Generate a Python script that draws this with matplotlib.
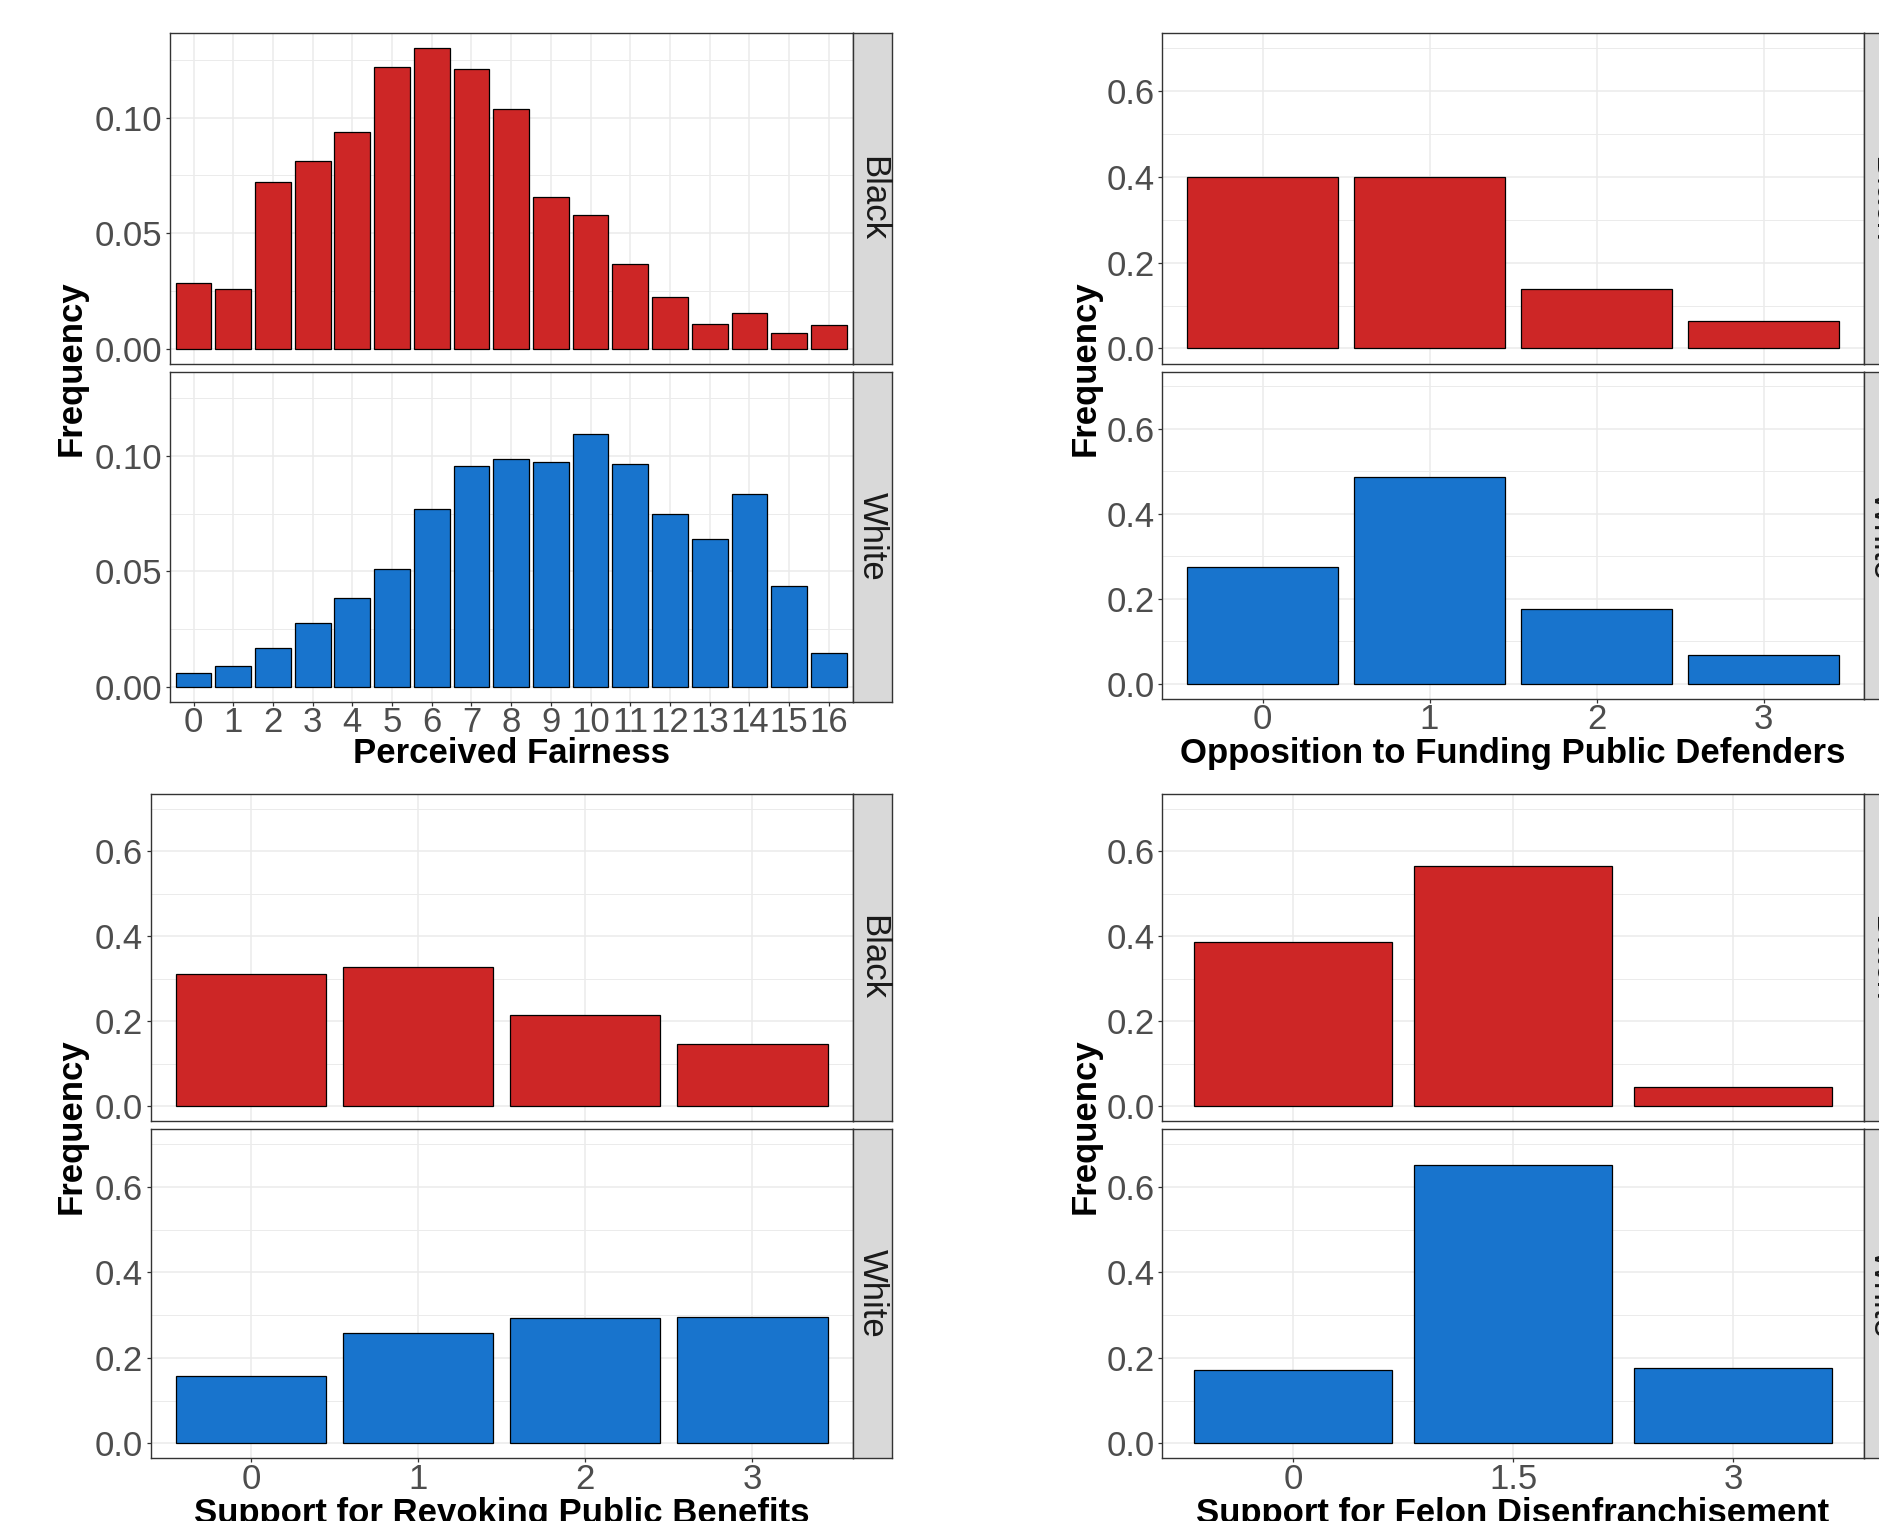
import matplotlib
matplotlib.use("Agg")
import matplotlib.pyplot as plt

plt.rcParams['font.family'] = ['Liberation Sans', 'DejaVu Sans']

# ---------------- data ----------------
groups = ["Black", "White"]

fair_levels = list(range(17))
fair_black = [0.0285, 0.0260, 0.0721, 0.0811, 0.0936, 0.1221, 0.1300, 0.1210, 0.1039,
              0.0655, 0.0579, 0.0367, 0.0225, 0.0105, 0.0155, 0.0069, 0.0103]
fair_white = [0.0062, 0.0090, 0.0167, 0.0275, 0.0384, 0.0511, 0.0770, 0.0955, 0.0987,
              0.0972, 0.1097, 0.0964, 0.0751, 0.0639, 0.0837, 0.0438, 0.0146]

opp_levels = [0, 1, 2, 3]
opp_black = [0.400, 0.399, 0.139, 0.063]
opp_white = [0.274, 0.486, 0.175, 0.068]

rev_levels = [0, 1, 2, 3]
rev_black = [0.312, 0.327, 0.214, 0.145]
rev_white = [0.158, 0.257, 0.293, 0.295]

fel_levels = [0, 1.5, 3]
fel_labels = ["0", "1.5", "3"]
fel_black = [0.387, 0.565, 0.046]
fel_white = [0.172, 0.651, 0.175]

xlab_fair = "Perceived Fairness"
xlab_opp = "Opposition to Funding Public Defenders"
xlab_rev = "Support for Revoking Public Benefits"
xlab_fel = "Support for Felon Disenfranchisement"
ylab = "Frequency"

RED = "#CD2626"
BLUE = "#1874CD"
GRID = "#EBEBEB"
BORDER = "#333333"
TICKTXT = "#4D4D4D"
FS = 25

W, H = 1879, 1521
fig = plt.figure(figsize=(W / 100, H / 100), dpi=100)


def ax_at(x0, y0, x1, y1):
    return fig.add_axes([x0 / W, 1 - y1 / H, (x1 - x0) / W, (y1 - y0) / H])


def panel(x0, y0, x1, y1, levels, vals, color, width, xlim, ylim,
          ymajor, ylabels, yminor, show_x, xticklabels, strip_text):
    ax = ax_at(x0, y0, x1, y1)
    ax.set_axisbelow(True)
    ax.bar(levels, vals, width=width, color=color, edgecolor="black",
           linewidth=0.9, zorder=3)
    ax.set_xlim(*xlim)
    ax.set_ylim(*ylim)
    ax.set_yticks(ymajor)
    ax.set_yticklabels(ylabels)
    ax.set_yticks(yminor, minor=True)
    ax.set_xticks(levels)
    ax.grid(which="major", color=GRID, linewidth=1.1)
    ax.grid(which="minor", axis="y", color=GRID, linewidth=0.7)
    for s in ax.spines.values():
        s.set_color(BORDER)
        s.set_linewidth(1.0)
    ax.tick_params(which="minor", length=0)
    ax.tick_params(axis="y", which="major", length=2.7, width=0.9, color=BORDER,
                   labelsize=FS, labelcolor=TICKTXT, pad=3)
    if show_x:
        ax.set_xticklabels(xticklabels)
        ax.tick_params(axis="x", which="major", length=2.7, width=0.9, color=BORDER,
                       labelsize=FS, labelcolor=TICKTXT, pad=0.5)
    else:
        ax.tick_params(axis="x", which="major", length=0, labelbottom=False)
    # strip
    st = ax_at(x1, y0, x1 + 39.6, y1)
    st.set_facecolor("#D9D9D9")
    st.set_xticks([])
    st.set_yticks([])
    for s in st.spines.values():
        s.set_color(BORDER)
        s.set_linewidth(1.0)
    st.text(0.5, 0.5, strip_text, rotation=270, ha="center", va="center",
            fontsize=FS, color="#1A1A1A", transform=st.transAxes)
    return ax


def facet(xx0, xx1, yb0, yb1, yw0, yw1, levels, vb, vw, width, xlim, ylim,
          ymajor, ylabels, yminor, xticklabels, xlab, xlab_y):
    panel(xx0, yb0, xx1, yb1, levels, vb, RED, width, xlim, ylim,
          ymajor, ylabels, yminor, False, xticklabels, groups[0])
    panel(xx0, yw0, xx1, yw1, levels, vw, BLUE, width, xlim, ylim,
          ymajor, ylabels, yminor, True, xticklabels, groups[1])
    fig.text((xx0 + xx1) / 2 / W, 1 - xlab_y / H, xlab, ha="center", va="baseline",
             fontsize=FS, fontweight="bold", color="black")


big_major = [0.0, 0.2, 0.4, 0.6]
big_labels = ["0.0", "0.2", "0.4", "0.6"]
big_minor = [0.1, 0.3, 0.5, 0.7]
big_ylim = (-0.035, 0.735)

# top-left: perceived fairness
facet(169.7, 852.7, 33.3, 363.7, 371.7, 702.0, fair_levels, fair_black, fair_white,
      0.9, (-0.6, 16.6), (-0.0065, 0.1365), [0.0, 0.05, 0.10],
      ["0.00", "0.05", "0.10"], [0.025, 0.075, 0.125],
      [str(v) for v in fair_levels], xlab_fair, 763.3)

# top-right: opposition to funding public defenders
facet(1162.3, 1863.7, 33.3, 363.5, 371.5, 698.7, opp_levels, opp_black, opp_white,
      0.9, (-0.6, 3.6), big_ylim, big_major, big_labels, big_minor,
      [str(v) for v in opp_levels], xlab_opp, 763.3)

# bottom-left: revoking public benefits
facet(150.7, 852.7, 793.7, 1121.0, 1129.0, 1458.3, rev_levels, rev_black, rev_white,
      0.9, (-0.6, 3.6), big_ylim, big_major, big_labels, big_minor,
      [str(v) for v in rev_levels], xlab_rev, 1523.0)

# bottom-right: felon disenfranchisement
facet(1162.3, 1863.7, 793.7, 1121.0, 1129.0, 1458.3, fel_levels, fel_black, fel_white,
      1.35, (-0.8925, 3.8925), big_ylim, big_major, big_labels, big_minor,
      fel_labels, xlab_fel, 1523.0)

# y-axis titles
for xc, yc in [(71.5, 367.7), (1084.8, 367.7), (71.5, 1126.0), (1084.8, 1126.0)]:
    fig.text(xc / W, 1 - yc / H, ylab, rotation=90, ha="center", va="center",
             fontsize=FS, fontweight="bold", color="black")

fig.savefig("out.png", dpi=100)
